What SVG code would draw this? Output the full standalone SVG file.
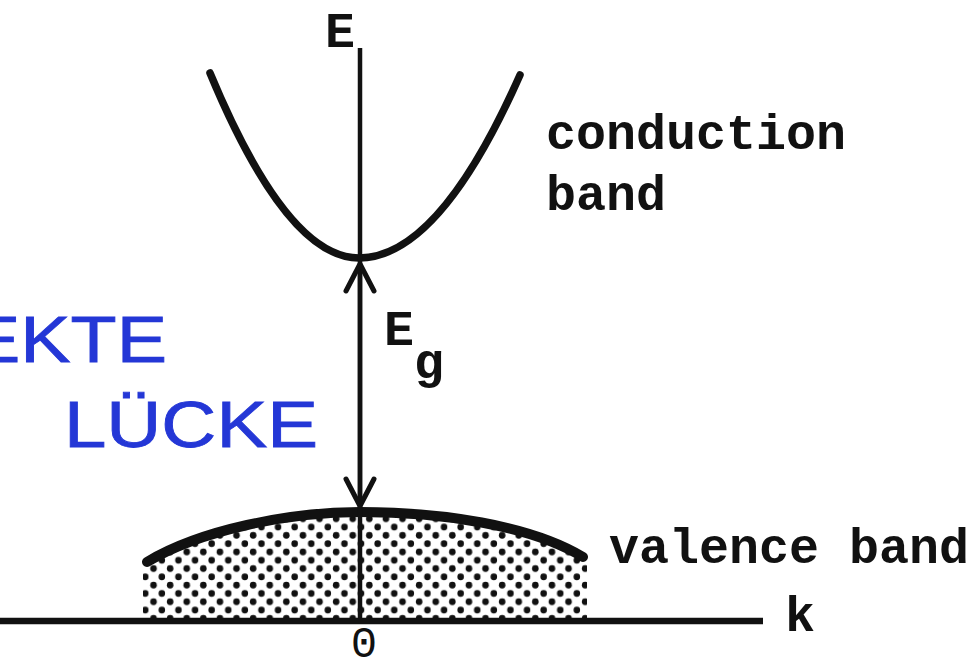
<svg xmlns="http://www.w3.org/2000/svg" width="975" height="667" viewBox="0 0 975 667">
  <defs>
    <style>
      .lbl { font-family: "Liberation Mono", "Courier New", monospace; font-weight: bold; font-size: 50px; fill: #111; }
      .hand { font-family: "Liberation Sans", Arial, sans-serif; font-size: 64px; fill: #2437d6; stroke: #2437d6; stroke-width: 0.8; }
      .curve { fill: none; stroke: #111; stroke-linecap: round; stroke-linejoin: round; }
      .axis { stroke: #111; fill: none; }
    </style>
    <pattern id="dots" width="16.6" height="16.6" patternUnits="userSpaceOnUse">
      <circle cx="4.15" cy="4.15" r="3.3" fill="#111"/>
      <circle cx="12.45" cy="12.45" r="3.3" fill="#111"/>
    </pattern>
    <marker id="vhead" markerUnits="userSpaceOnUse" viewBox="-32 -20 36 40" markerWidth="36" markerHeight="40" refX="0" refY="0" orient="auto-start-reverse" overflow="visible">
      <path d="M -27 -14 L 0 0 L -27 14" fill="none" stroke="#111" stroke-width="5" stroke-linecap="round" stroke-linejoin="round"/>
    </marker>
  </defs>

  <rect x="0" y="0" width="975" height="667" fill="#ffffff"/>

  <g id="valence-band">
    <path d="M143,620 L143,563 C200,530 290,512 360,512 C440,512 530,525 587,558 L587,620 Z" fill="url(#dots)"/>
    <path class="curve" d="M147,562 C200,530 290,512 360,512 C440,512 530,525 583,557" stroke-width="10"/>
  </g>

  <g id="conduction-band">
    <path class="curve" d="M210,73 Q287,258 359,258 Q439,258 520,75" stroke-width="7.5"/>
  </g>

  <g id="axes">
    <line class="axis" x1="360" y1="48" x2="360" y2="621" stroke-width="4.5"/>
    <line class="axis" x1="0" y1="621" x2="763" y2="621" stroke-width="6.5"/>
  </g>

  <g id="connectors">
    <line x1="360" y1="506" x2="360" y2="264" stroke="#111" stroke-width="4.5" marker-start="url(#vhead)" marker-end="url(#vhead)"/>
  </g>

  <g id="labels">
    <text class="lbl" x="325" y="47">E</text>
    <text class="lbl" x="546" y="149">conduction</text>
    <text class="lbl" x="546" y="210">band</text>
    <text class="lbl" x="384" y="345">E</text>
    <text class="lbl" x="414" y="378">g</text>
    <text class="lbl" x="609" y="563">valence band</text>
    <text class="lbl" x="785" y="631">k</text>
    <text class="lbl" x="364" y="657" text-anchor="middle" style="font-size:44px;font-weight:normal">0</text>
  </g>

  <g id="handwriting">
    <text class="hand" x="-30" y="362" textLength="197" lengthAdjust="spacingAndGlyphs">EKTE</text>
    <text class="hand" x="64" y="447" textLength="254" lengthAdjust="spacingAndGlyphs">LÜCKE</text>
  </g>
</svg>
